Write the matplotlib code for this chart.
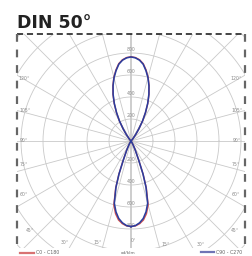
import numpy as np
import matplotlib
matplotlib.use("Agg")
import matplotlib.pyplot as plt

# light distribution, cd/klm
# lower half: angle from nadir
gamma_down = [0, 3, 6, 9, 12, 15, 18, 20, 22, 25, 28, 32, 36, 40, 90]
c0_down = [778, 773, 756, 727, 676, 603, 452, 324, 188, 96, 46, 15, 4, 0, 0]
c90_down = [778, 770, 748, 713, 658, 586, 442, 318, 184, 93, 44, 14, 4, 0, 0]
# upper half: angle from zenith
phi_up = [0, 3, 6, 9, 12, 15, 18, 21, 24, 27, 30, 33, 36, 40, 45, 50, 90]
c0_up = [766, 760, 743, 712, 660, 601, 532, 458, 376, 292, 212, 132, 72, 26, 6, 0, 0]
c90_up = [764, 757, 739, 707, 654, 596, 528, 454, 373, 289, 209, 130, 70, 25, 6, 0, 0]

rings = [200, 400, 600, 800, 1000, 1200, 1400]
ring_labels = ["200", "400", "600", "800"]

angle_labels_left = ["120°", "105°", "90°", "75°", "60°", "45°", "30°", "15°", "0°"]
angle_labels_right = ["120°", "105°", "90°", "75°", "60°", "45°", "30°", "15°"]
# label placement in picture pixels
pos_left = [(24.5, 78), (24.5, 110.5), (24, 140), (24, 165), (24, 195),
            (29.5, 231), (65, 243), (98, 243), (133.5, 241)]
pos_right = [(236.5, 78), (236.5, 110), (236.5, 140), (236, 165), (236, 195),
             (234.5, 231), (200.5, 244), (165.5, 244)]

RED = "#d9534f"
BLUE = "#2a3d9e"
GRID = "#c9c9c9"
TXT = "#8a8a8a"

W, H = 252, 256
cx, cy = 131, 141          # centre in pixels
s = 200 / 22.0             # cd/klm per pixel


def px(x, y):
    return (x - cx) * s, (cy - y) * s


fig = plt.figure(figsize=(W / 100, H / 100), dpi=100)
x0, x1, y0, y1 = 17, 245, 34, 248
ax = fig.add_axes([x0 / W, 1 - y1 / H, (x1 - x0) / W, (y1 - y0) / H])
ax.set_xlim((x0 - cx) * s, (x1 - cx) * s)
ax.set_ylim((cy - y1) * s, (cy - y0) * s)
ax.set_aspect("equal")
ax.axis("off")

t = np.linspace(0, 2 * np.pi, 361)
for r in rings:
    ax.plot(r * np.cos(t), r * np.sin(t), color=GRID, lw=0.6, zorder=1)
for a in range(0, 360, 15):
    ar = np.radians(a)
    lw = 1.3 if a % 180 == 0 else 0.6
    ax.plot([0, 2000 * np.sin(ar)], [0, -2000 * np.cos(ar)], color=GRID, lw=lw, zorder=1)

for r, lab in zip(rings, ring_labels):
    ax.text(0, r + 8, lab, fontsize=3.3, color=TXT, ha="center", va="bottom", zorder=2)
    ax.text(0, -r + 8, lab, fontsize=3.3, color=TXT, ha="center", va="bottom", zorder=2)


def curve(down, up):
    g = np.concatenate([gamma_down, 180 - np.array(phi_up[::-1])])
    v = np.concatenate([down, up[::-1]])
    g = np.radians(g)
    xr, yr = v * np.sin(g), -v * np.cos(g)
    return np.concatenate([xr, -xr[::-1]]), np.concatenate([yr, yr[::-1]])


xr, yr = curve(c0_down, c0_up)
ax.plot(xr, yr, color=RED, lw=1.0, zorder=3)
xb, yb = curve(c90_down, c90_up)
ax.plot(xb, yb, color=BLUE, lw=1.15, zorder=4)

for lab, (lx, ly) in zip(angle_labels_left + angle_labels_right, pos_left + pos_right):
    dx, dy = px(lx, ly)
    ax.text(dx, dy, lab, fontsize=3.3, color=TXT, ha="center", va="center", zorder=5)

# dashed frame
ax.plot([0, 1], [1, 1], transform=ax.transAxes, color="#111111", lw=1.1,
        dashes=(4, 2.5), clip_on=False)
ax.plot([0, 0], [1, 0.0], transform=ax.transAxes, color="#666666", lw=1.6,
        dashes=(3.5, 3.5), clip_on=False)
ax.plot([1, 1], [1, 0.0], transform=ax.transAxes, color="#666666", lw=1.6,
        dashes=(3.5, 3.5), clip_on=False)

fig.text(17 / W, 1 - 28 / H, "DIN 50°", fontsize=12.5, fontweight="bold",
         color="#222222", ha="left", va="baseline")

# legend
fig.add_artist(plt.Line2D([20 / W, 34 / W], [1 - 253 / H] * 2, color="#d87272", lw=1.6))
fig.text(36 / W, 1 - 253 / H, "C0 - C180", fontsize=3.4, color="#666666", va="center")
fig.add_artist(plt.Line2D([201 / W, 214 / W], [1 - 252 / H] * 2, color="#6f74b5", lw=1.6))
fig.text(216 / W, 1 - 252 / H, "C90 - C270", fontsize=3.4, color="#666666", va="center")
fig.text(128 / W, 1 - 253 / H, "cd/klm", fontsize=3.2, color="#666666", ha="center", va="center")

fig.savefig("out.png", dpi=100)
